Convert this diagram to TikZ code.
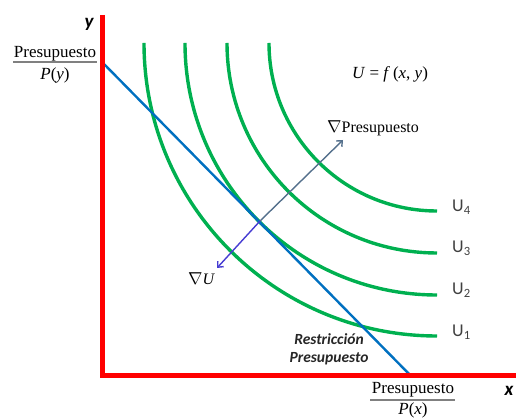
\documentclass[tikz,border=0pt]{standalone}
\usepackage{fontspec}
\setmainfont{Liberation Serif}
\newfontfamily\calfont{Carlito}
\usetikzlibrary{arrows.meta}
\definecolor{ugreen}{RGB}{0,176,80}
\definecolor{bblue}{RGB}{0,112,192}
\definecolor{axred}{RGB}{255,0,0}
\definecolor{gpres}{RGB}{84,112,140}
\definecolor{gu}{RGB}{70,60,210}
\definecolor{lblgray}{RGB}{64,64,64}
\definecolor{bargray}{RGB}{128,128,128}
\tikzset{
  indiff/.style={draw=ugreen, line width=3.4pt},
  budget/.style={draw=bblue, line width=2.4pt},
  axisline/.style={draw=axred, line width=5pt, line join=miter},
  gradarrow/.style={line width=1.4pt, -{Straight Barb[length=4.5pt,width=8pt,line width=1.4pt]}},
  ulabel/.style={anchor=base west, inner sep=0pt, text=lblgray, font=\calfont\fontsize{18}{20}\selectfont},
  axlabel/.style={inner sep=0pt, font=\calfont\bfseries\itshape\fontsize{19}{21}\selectfont},
  serif/.style={inner sep=0pt, anchor=base, font=\fontsize{17}{19}\selectfont},
  fracbar/.style={draw=bargray, line width=1.3pt},
}
\begin{document}
\begin{tikzpicture}[x=1pt,y=1pt]
\useasboundingbox (0,0) rectangle (516,419);
% indifference curves (quarter circles about the top-right corner)
\draw[indiff] (144,376) arc[start angle=180,end angle=270,radius=293];
\draw[indiff] (185,376) arc[start angle=180,end angle=270,radius=252];
\draw[indiff] (227,376) arc[start angle=180,end angle=270,radius=210];
\draw[indiff] (269,376) arc[start angle=180,end angle=270,radius=168];
% budget line
\coordinate (bA) at (103,356);
\coordinate (bB) at (412,42);
\draw[budget] (bA) -- (bB);
% gradients
\coordinate (T) at (260,198);
\coordinate (gP) at (343,279);
\coordinate (gU) at (217,151);
\draw[gradarrow, draw=gpres] (T) -- (gP);
\draw[gradarrow, draw=gu] (T) -- (gU);
% axes
\coordinate (yTop) at (102,404);
\coordinate (O) at (102,43);
\coordinate (xEnd) at (516,43);
\draw[axisline] (yTop) -- (O) -- (xEnd);
% axis labels
\node[axlabel] (ylab) at (89,395) {y};
\node[axlabel] (xlab) at (509,28) {x};
% budget intercept fractions
\node[serif] (ynum) at (55,361) {Presupuesto};
\draw[fracbar] (13,357) -- (97,357);
\node[serif] (yden) at (55,339) {\textit{P}(\textit{y})};
\node[serif] (xnum) at (413,25) {Presupuesto};
\node[serif] (xden) at (413,4) {\textit{P}(\textit{x})};
\draw[fracbar] (370,19) -- (455,19);
% formula and gradient labels
\node[serif, anchor=base west, font=\fontsize{17}{19}\selectfont] (ufun) at (352,340) {\textit{U} = \textit{f}\,(\textit{x}, \textit{y})};
\node[serif, anchor=base west, font=\fontsize{16}{18}\selectfont] (gPlab) at (327,286) {$\nabla$Presupuesto};
\node[serif, anchor=base west, font=\fontsize{16}{18}\selectfont] (gUlab) at (188,134) {$\nabla$\textit{U}};
% restriction label
\node[align=center, inner sep=0pt, text=black!85, font=\calfont\bfseries\itshape\fontsize{15.5}{18}\selectfont] (restr) at (329,70) {Restricción\\Presupuesto};
% utility labels
\node[ulabel] (u4) at (452,207) {U\textsubscript{4}};
\node[ulabel] (u3) at (452,166) {U\textsubscript{3}};
\node[ulabel] (u2) at (452,124) {U\textsubscript{2}};
\node[ulabel] (u1) at (452,82) {U\textsubscript{1}};
\end{tikzpicture}
\end{document}
